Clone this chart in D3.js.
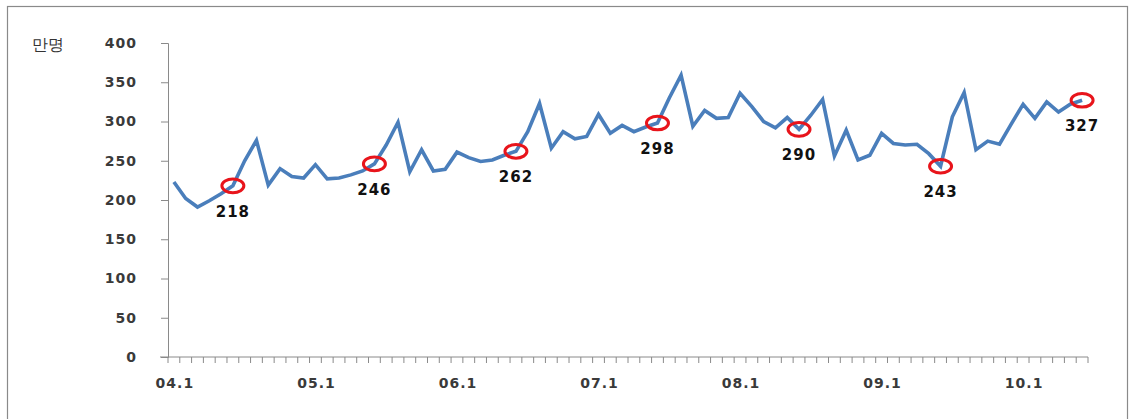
<!DOCTYPE html>
<html><head><meta charset="utf-8">
<script src="https://cdn.jsdelivr.net/npm/d3@7"></script>
<style>
body{margin:0;background:#fff;}
text{font-family:"DejaVu Sans",Verdana,sans-serif;}
</style></head>
<body><svg id="c" width="1135" height="419"></svg>
<script>
const years = ["04","05","06","07","08","09","10"];
const monthsLastYear = 6;
const values = [
 223,202,191,199,208,218,250,276,219,240,230,228,
 245,227,228,232,237,246,270,299,236,264,237,239,
 261,254,249,251,257,262,287,323,266,287,278,281,
 309,285,295,287,293,298,330,359,294,314,304,305,
 336,319,300,292,305,290,308,328,256,289,251,257,
 285,272,270,271,259,243,306,337,264,275,271,297,
 322,304,325,312,322,327
];
const highlighted = ["04.6","05.6","06.6","07.6","08.6","09.6","10.6"];
const yTicks = [0,50,100,150,200,250,300,350,400];
const unitLabel = "만명";

const months = [];
years.forEach((y,i)=>{const n = i===years.length-1?monthsLastYear:12; for(let m=1;m<=n;m++) months.push(y+"."+m);});
const data = months.map((m,i)=>({m, v: values[i]}));

const svg = d3.select("#c");
svg.append("rect").attr("x",7.5).attr("y",6.5).attr("width",1120).attr("height",420).attr("fill","none").attr("stroke","#8a8a8a").attr("stroke-width",1.2);

const x = d3.scaleBand().domain(months).range([168,1088]).padding(0);
const y = d3.scaleLinear().domain([0,400]).range([357,43]);

// y axis
const ya = svg.append("g").attr("transform","translate(168,0)")
  .call(d3.axisLeft(y).tickValues(yTicks).tickSize(7).tickPadding(24));
ya.select(".domain").attr("stroke","#8a8a8a");
ya.selectAll("line").attr("stroke","#8a8a8a");
ya.selectAll("text").attr("font-size",14).attr("font-weight","bold").attr("fill","#3a3a3a").attr("letter-spacing","1px");

svg.append("text").attr("x",48).attr("y",50).attr("text-anchor","middle").attr("font-size",16).attr("fill","#333").attr("font-family","'Noto Sans CJK KR',sans-serif").text(unitLabel);

// x axis: ticks at month boundaries
const xa = svg.append("g");
xa.append("line").attr("x1",160).attr("x2",1088).attr("y1",357).attr("y2",357).attr("stroke","#8a8a8a");
const bounds = months.map(m=>x(m)).concat([x(months[months.length-1])+x.bandwidth()]);
xa.selectAll("line.t").data(bounds).enter().append("line").attr("class","t")
  .attr("x1",d=>d).attr("x2",d=>d).attr("y1",357).attr("y2",363).attr("stroke","#8a8a8a");
xa.selectAll("text").data(months.filter(m=>m.endsWith(".1"))).enter().append("text")
  .attr("x",m=>x(m)+x.bandwidth()/2+1).attr("y",388).attr("text-anchor","middle")
  .attr("font-size",14).attr("font-weight","bold").attr("fill","#3a3a3a").attr("letter-spacing","1px").text(m=>m);

// line
const line = d3.line().x(d=>x(d.m)+x.bandwidth()/2).y(d=>y(d.v));
svg.append("path").datum(data).attr("d",line).attr("fill","none").attr("stroke","#4a7ebb").attr("stroke-width",3.6).attr("stroke-linejoin","miter");

// highlights
const hd = data.filter(d=>highlighted.includes(d.m));
svg.selectAll("ellipse.h").data(hd).enter().append("ellipse")
  .attr("cx",d=>x(d.m)+x.bandwidth()/2).attr("cy",d=>y(d.v)).attr("rx",11).attr("ry",6.8)
  .attr("fill","none").attr("stroke","#e8141b").attr("stroke-width",3);
svg.selectAll("text.h").data(hd).enter().append("text")
  .attr("x",d=>x(d.m)+x.bandwidth()/2).attr("y",d=>y(d.v)+31).attr("text-anchor","middle")
  .attr("font-size",15).attr("font-weight","bold").attr("fill","#111").attr("letter-spacing","1px").text(d=>d.v);
</script></body></html>
